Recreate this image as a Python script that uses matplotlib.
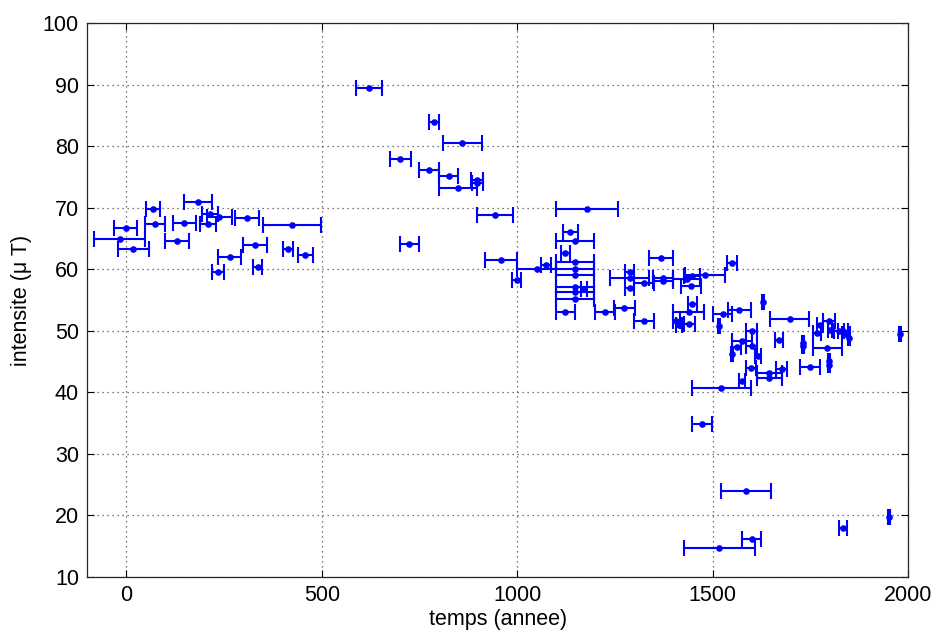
import matplotlib
matplotlib.use("Agg")
import matplotlib.pyplot as plt

# Archaeomagnetic intensity determinations: age (years), intensity (µT), age half-uncertainty
temps = [
    183, 68, 213, 238, 309, 424, 73, 148, 208, -2,
    -17, 129, 18, 329, 413, 458, 264, 336, 235,
    621, 787, 859, 700, 774, 824, 896, 898, 849, 943,
    724, 958, 1049, 998, 1074,
    1178, 1135, 1148, 1123, 1148, 1148, 1148, 1148, 1148, 1148,
    1170, 1123, 1224, 1274, 1287, 1287, 1287, 1324, 1373, 1373,
    1433, 1446, 1480, 1368, 1549, 1444, 1448, 1438, 1525, 1568,
    1324, 1407, 1414, 1440, 1516, 1629, 1599, 1574, 1561, 1599,
    1549, 1615, 1597, 1644, 1644, 1575, 1522, 1472, 1697, 1798,
    1774, 1767, 1800, 1823, 1833, 1840, 1848, 1978, 1669, 1731,
    1731, 1793, 1676, 1748, 1797, 1797, 1586, 1951, 1834, 1599,
    1516,
]
intensite = [
    70.9, 69.75, 69.0, 68.55, 68.4, 67.2, 67.3, 67.5, 67.3, 66.7,
    64.9, 64.65, 63.3, 64.0, 63.3, 62.3, 62.0, 60.3, 59.5,
    89.5, 83.9, 80.5, 78.0, 76.1, 75.2, 74.5, 74.0, 73.2, 68.8,
    64.1, 61.5, 60.0, 58.3, 60.7,
    69.8, 66.1, 64.6, 62.7, 61.2, 60.0, 59.1, 57.1, 56.35, 55.2,
    56.8, 53.0, 53.1, 53.7, 59.6, 58.5, 56.9, 57.7, 58.6, 58.1,
    58.4, 58.9, 59.1, 61.9, 61.1, 57.2, 54.4, 53.0, 52.7, 53.4,
    51.6, 51.6, 50.9, 51.1, 50.8, 54.6, 50.0, 48.3, 47.4, 47.5,
    46.2, 45.9, 44.0, 43.1, 42.3, 41.8, 40.7, 34.8, 51.9, 51.6,
    50.9, 49.7, 50.1, 49.9, 50.0, 49.5, 48.8, 49.4, 48.5, 48.0,
    47.6, 47.2, 43.7, 44.15, 45.0, 44.5, 24.0, 19.75, 17.9, 16.1,
    14.6,
]
erreur_temps = [
    35, 18, 20, 32, 30, 75, 25, 30, 20, 30,
    65, 30, 40, 30, 12, 20, 30, 12, 15,
    34, 13, 50, 27, 26, 25, 15, 15, 49, 45,
    24, 40, 50, 12, 13,
    79, 19, 49, 12, 49, 49, 49, 49, 49, 49,
    8, 24, 26, 26, 12, 50, 12, 25, 25, 25,
    35, 20, 52, 30, 13, 25, 12, 40, 25, 30,
    25, 8, 8, 15, 3, 3, 14, 25, 12, 13,
    3, 7, 13, 32, 32, 7, 75, 25, 50, 15,
    8, 10, 5, 12, 12, 10, 3, 3, 10, 3,
    3, 38, 15, 25, 3, 3, 64, 3, 10, 25,
    91,
]

x_ticks = [0, 500, 1000, 1500, 2000]
y_ticks = [10, 20, 30, 40, 50, 60, 70, 80, 90, 100]

plt.rcParams['font.family'] = ['Liberation Sans', 'DejaVu Sans']

fig = plt.figure(figsize=(9.36, 6.34), dpi=100)
ax = fig.add_axes([0.0933, 0.0904, 0.8771, 0.8728])

ax.errorbar(temps, intensite, xerr=erreur_temps, fmt='.', color='blue',
            ecolor='blue', markersize=7.5, elinewidth=1.5, capsize=5.5,
            capthick=1.5, zorder=3)

ax.set_xlim(-100, 2000)
ax.set_ylim(10, 100)
ax.set_xticks(x_ticks)
ax.set_yticks(y_ticks)
ax.grid(True, linestyle=(0, (1, 3)), color='0.3', linewidth=0.9)
ax.set_axisbelow(True)

ax.tick_params(direction='in', length=5, width=0.8, labelsize=15.5,
               top=True, right=True, pad=6)
for s in ax.spines.values():
    s.set_linewidth(0.9)
    s.set_color('0.15')

ax.set_xlabel('temps (annee)', fontsize=15.5, labelpad=2)
ax.set_ylabel('intensite (μ T)', fontsize=15.5, labelpad=8)

fig.savefig('out.png', dpi=100)
